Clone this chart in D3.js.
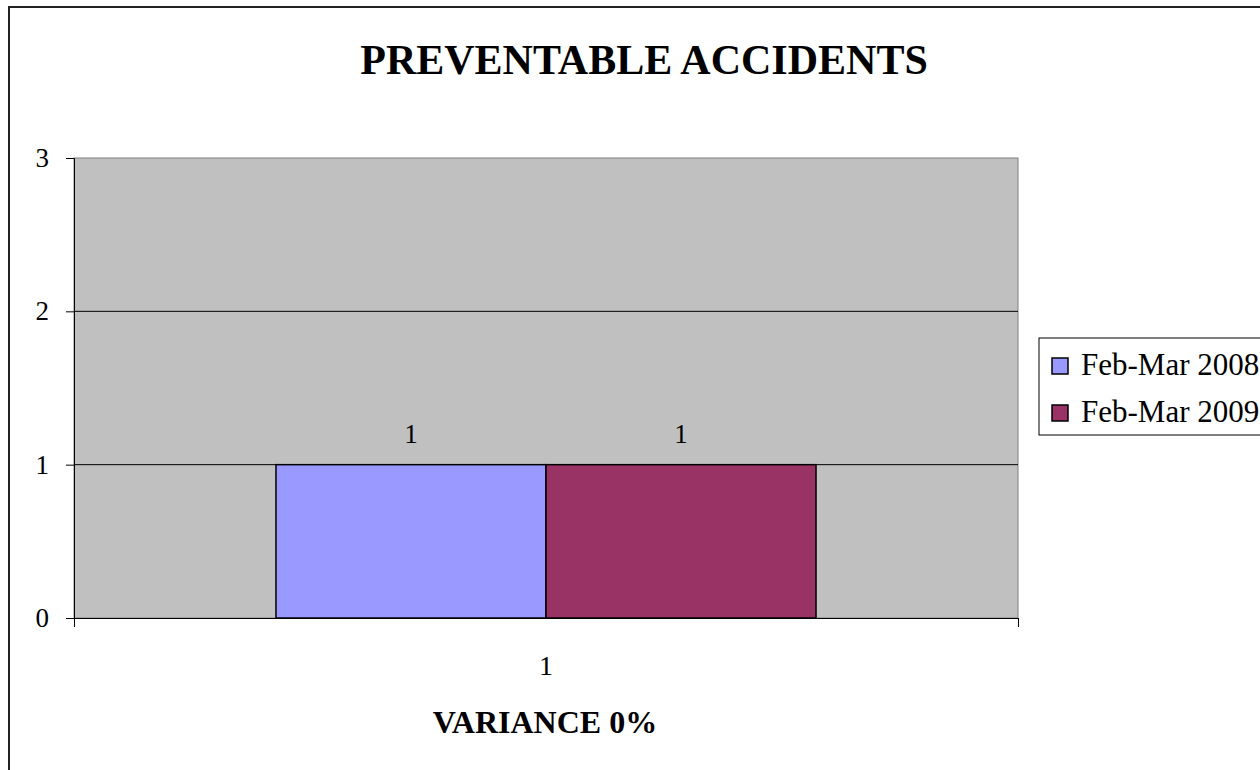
<!DOCTYPE html>
<html>
<head>
<meta charset="utf-8">
<script src="https://cdn.jsdelivr.net/npm/d3@7"></script>
<style>
html,body{margin:0;padding:0;background:#fff;}
svg{display:block;}
</style>
</head>
<body>
<svg id="chart" width="1260" height="770"></svg>
<script>
const title = "PREVENTABLE ACCIDENTS";
const xAxisTitle = "VARIANCE 0%";
const categories = ["1"];
const seriesNames = ["Feb-Mar 2008", "Feb-Mar 2009"];
const seriesColors = ["#9999FF", "#993366"];
const values2008 = [1];
const values2009 = [1];
const yTicks = [0, 1, 2, 3];

const seriesValues = [values2008, values2009];
const font = "'Liberation Serif','Times New Roman',serif";

const svg = d3.select("#chart");
const plot = {left: 74, right: 1018, top: 158, bottom: 618};

// outer chart border
svg.append("rect")
  .attr("x", 9).attr("y", 7).attr("width", 1300).attr("height", 800)
  .attr("fill", "#fff").attr("stroke", "#222").attr("stroke-width", 2);

const y = d3.scaleLinear().domain([0, 3]).range([plot.bottom, plot.top]);
const x0 = d3.scaleBand().domain(categories).range([plot.left, plot.right]).padding(0);
const x1 = d3.scaleBand().domain(seriesNames).range([0, x0.bandwidth()]).paddingInner(0).paddingOuter(0.748);

// plot area
svg.append("rect")
  .attr("x", plot.left).attr("y", plot.top)
  .attr("width", plot.right - plot.left).attr("height", plot.bottom - plot.top)
  .attr("fill", "#C0C0C0").attr("stroke", "#808080").attr("stroke-width", 1);

// gridlines
svg.append("g").selectAll("line").data(yTicks.filter(d => d > 0 && d < 3)).join("line")
  .attr("x1", plot.left).attr("x2", plot.right)
  .attr("y1", d => y(d)).attr("y2", d => y(d))
  .attr("stroke", "#000").attr("stroke-width", 1);

// bars
const groups = svg.append("g").selectAll("g").data(categories).join("g")
  .attr("transform", d => `translate(${x0(d)},0)`);
groups.selectAll("rect").data((d, i) => seriesNames.map((s, j) => ({s, j, v: seriesValues[j][i]}))).join("rect")
  .attr("x", d => x1(d.s)).attr("width", x1.bandwidth())
  .attr("y", d => y(d.v)).attr("height", d => y(0) - y(d.v))
  .attr("fill", d => seriesColors[d.j]).attr("stroke", "#000").attr("stroke-width", 1.5);
groups.selectAll("text").data((d, i) => seriesNames.map((s, j) => ({s, j, v: seriesValues[j][i]}))).join("text")
  .attr("x", d => x1(d.s) + x1.bandwidth() / 2).attr("y", d => y(d.v) - 22)
  .attr("text-anchor", "middle").attr("font-family", font).attr("font-size", 27)
  .text(d => d.v);

// y axis
const yAxis = d3.axisLeft(y).tickValues(yTicks).tickSize(8).tickPadding(17).tickFormat(d3.format("d"));
const gy = svg.append("g").attr("transform", `translate(${plot.left},0)`).call(yAxis);
gy.select(".domain").attr("stroke", "#000");
gy.selectAll(".tick line").attr("stroke", "#000");
gy.selectAll(".tick text").attr("font-family", font).attr("font-size", 27).attr("fill", "#000").attr("dy", "0.32em");

// x axis
const xEdge = d3.scaleLinear().domain([0, 1]).range([plot.left, plot.right]);
const gx = svg.append("g").attr("transform", `translate(0,${plot.bottom})`)
  .call(d3.axisBottom(xEdge).tickValues([0, 1]).tickSize(9).tickSizeOuter(0).tickFormat(""));
gx.select(".domain").attr("stroke", "#000");
gx.selectAll(".tick line").attr("stroke", "#000");
svg.append("g").selectAll("text").data(categories).join("text")
  .attr("x", d => x0(d) + x0.bandwidth() / 2).attr("y", 675)
  .attr("text-anchor", "middle").attr("font-family", font).attr("font-size", 28)
  .text(d => d);

// titles
svg.append("text").attr("x", 644).attr("y", 74).attr("text-anchor", "middle")
  .attr("font-family", font).attr("font-weight", "bold").attr("font-size", 42).text(title);
svg.append("text").attr("x", 545).attr("y", 733).attr("text-anchor", "middle")
  .attr("font-family", font).attr("font-weight", "bold").attr("font-size", 32).text(xAxisTitle);

// legend
const lg = svg.append("g");
lg.append("rect").attr("x", 1039).attr("y", 338).attr("width", 300).attr("height", 97)
  .attr("fill", "#fff").attr("stroke", "#000").attr("stroke-width", 1);
const items = lg.selectAll("g").data(seriesNames).join("g")
  .attr("transform", (d, i) => `translate(1052,${358 + i * 47})`);
items.append("rect").attr("width", 16).attr("height", 16)
  .attr("fill", (d, i) => seriesColors[i]).attr("stroke", "#000").attr("stroke-width", 1.5);
items.append("text").attr("x", 29).attr("y", 17)
  .attr("font-family", font).attr("font-size", 31).text(d => d);
</script>
</body>
</html>
